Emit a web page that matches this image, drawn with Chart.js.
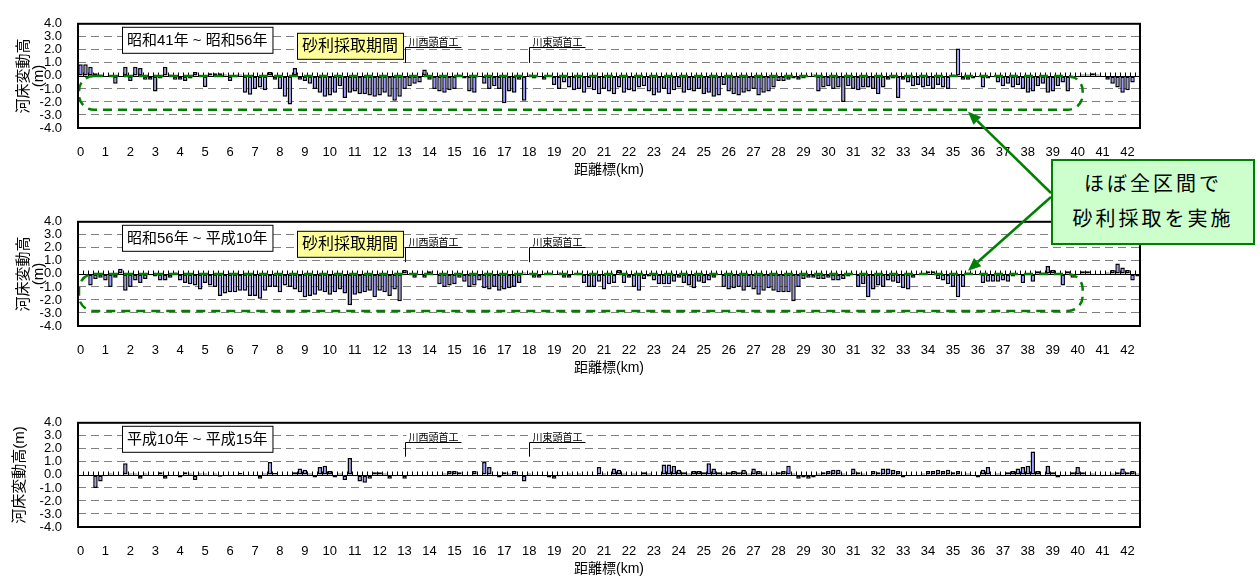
<!DOCTYPE html>
<html><head><meta charset="utf-8">
<script src="https://cdn.jsdelivr.net/npm/chart.js@4"></script>
<style>
html,body{margin:0;padding:0;background:#fff;}
body{width:1260px;height:577px;position:relative;overflow:hidden;font-family:"Liberation Sans","Noto Sans CJK JP",sans-serif;}
.panel{position:absolute;left:0;width:1260px;height:198px;}
#ov{position:absolute;left:0;top:0;z-index:2;pointer-events:none;}
#callout{position:absolute;left:1051px;top:159px;width:200px;height:78px;border:2px solid #008000;background:#CCFFCC;z-index:3;
 font-family:"Noto Sans CJK JP",sans-serif;font-size:20px;line-height:35px;letter-spacing:3px;text-align:center;color:#000;padding-top:4px;box-sizing:content-box;}
</style></head>
<body>
<div class="panel" style="top:0px"><canvas id="c1" width="1260" height="198"></canvas></div>
<div class="panel" style="top:198px"><canvas id="c2" width="1260" height="198"></canvas></div>
<div class="panel" style="top:399px"><canvas id="c3" width="1260" height="198"></canvas></div>
<canvas id="ov" width="1260" height="577"></canvas>
<div id="callout">ほぼ全区間で<br>砂利採取を実施</div>
<script>
// ---- categories: distance marks every 0.2 km (0.0 .. 42.4) ----
const distanceKm = Array.from({length: 213}, (_, i) => +(i * 0.2).toFixed(1));
const tickLabels = ['0','1','2','3','4','5','6','7','8','9','10','11','12','13','14','15','16','17','18','19','20',
  '21','22','23','24','25','26','27','28','29','30','31','32','33','34','35','36','37','38','39','40','41','42'];
const yTicks = [-4, -3, -2, -1, 0, 1, 2, 3, 4];

// ---- series: riverbed change (m) ----
const changeS41toS56 = [
  0.9, 0.9, 0.7, 0.2, 0.1, 0.0, 0.0,-0.6, 0.0, 0.7,
 -0.4, 0.7, 0.6,-0.3,-0.3,-1.2,-0.2, 0.7, 0.1,-0.3,
 -0.3,-0.4,-0.2, 0.3, 0.0,-0.85,0.2, 0.2, 0.2, 0.1,
 -0.4,-0.1, 0.1,-1.3,-1.45,-1.0,-0.9,-1.1,0.3,-0.3,
 -1.0,-1.6,-2.2, 0.6,-0.3,-0.4,-0.6,-1.0,-1.3,-1.6,
 -1.5,-1.3,-0.8,-1.7,-1.3,-1.2,-1.4,-1.4,-1.5,-1.6,
 -1.5,-1.3,-1.6,-1.9,-1.6,-1.0,-0.8,-0.6,-0.5, 0.5,
 -0.3,-1.0,-1.2,-1.3,-1.1,-1.0, 0.1,-0.2,-1.2,-1.3,
  0.0,-0.6,-1.0,-0.8,-1.0,-2.1,-1.2,-1.3,-0.3,-1.9,
  0.1,-0.2,-0.1,-0.3, 0.0,-0.7,-1.0,-0.5,-0.9,-1.1,
 -1.0,-1.3,-0.9,-1.1,-1.4,-1.0,-1.2,-1.4,-0.9,-1.3,
 -1.1,-1.2,-0.9,-0.8,-1.2,-1.5,-1.3,-1.0,-1.4,-1.1,
 -0.9,-1.3,-1.1,-1.2,-1.0,-1.4,-1.3,-1.6,-1.5,-0.7,
 -1.2,-1.4,-1.5,-1.3,-1.2,-1.0,-1.5,-1.3,-1.2,-0.9,
 -0.4,-0.4,-0.3,-0.2,-0.3,-0.2,-0.1, 0.1,-1.2,-0.9,
 -0.8,-1.0,-0.9,-2.0,-0.8,-1.0,-1.1,-0.9,-0.9,-1.0,
 -1.4,-0.9,-0.3,-0.2,-1.7,-0.3,-0.5,-0.8,-0.7,-0.9,
 -0.8,-1.0,-0.7,-0.9,-1.0, 0.1, 2.1,-0.3,-0.3,-0.2,
  0.0,-0.9,-0.2,-0.1,-0.5,-0.8,-0.6,-0.9,-0.7,-1.0,
 -1.3,-1.2,-0.8,-0.6,-1.3,-1.2,-0.8,-0.5,-1.2,-0.2,
  0.0, 0.1, 0.1, 0.2, 0.1, 0.0,-0.3,-0.6,-0.9,-1.3,
 -1.1,-0.5, 0.0
];
const changeS56toH10 = [
  0.0, 0.0,-0.9,-0.4,-0.3,-0.5,-1.0,-0.3, 0.4,-1.3,
 -1.0,-0.5,-0.7,-0.4,-0.1,-0.2,-0.5,-0.5,-0.3, 0.1,
 -0.5,-0.7,-0.8,-0.9,-1.2,-0.7,-0.9,-1.0,-1.7,-1.5,
 -1.4,-1.4,-1.3,-1.3,-1.7,-1.7,-1.9,-1.3,-1.0,-1.0,
 -1.4,-0.9,-1.0,-1.2,-1.4,-1.8,-1.7,-1.6,-1.3,-1.4,
 -1.6,-1.4,-1.2,-1.5,-2.4,-1.6,-1.5,-1.4,-1.3,-1.8,
 -1.3,-1.4,-1.7,-1.2,-2.1, 0.3, 0.0,-0.3, 0.0,-0.3,
  0.2,-0.1,-0.8,-1.0,-0.9,-0.8,-0.3,-0.6,-1.0,-0.9,
 -0.5,-1.1,-1.2,-1.0,-1.3,-1.2,-1.1,-1.0,-0.7, 0.1,
  0.0,-0.3,-0.3,-0.1, 0.1,-0.1, 0.1,-0.3,-0.3, 0.0,
 -0.1,-0.7,-1.0,-1.0,-0.6,-1.2,-0.8,-0.7, 0.3,-0.7,
 -0.3,-1.0,-1.3,-0.4,-0.2,-0.5,-0.8,-0.8,-0.8,-0.6,
 -0.3,-0.7,-0.9,-1.1,-0.6,-0.7,-0.5,-0.3, 0.0,-1.0,
 -1.2,-1.1,-1.0,-1.3,-1.0,-1.2,-1.6,-1.3,-1.1,-1.3,
 -1.4,-1.4,-1.4,-2.1,-1.0,-0.4,-0.3,-0.3,-0.4,-0.4,
 -0.3,-0.5,-0.5,-0.4,-0.2,-0.1,-1.0,-0.8,-1.8,-1.2,
 -0.9,-1.0,-0.5,-0.6,-0.7,-1.1,-1.2,-0.3,-0.1, 0.0,
  0.2, 0.2,-0.4,-0.5,-0.8,-1.0,-1.8,-1.0, 0.1, 0.0,
 -0.1,-0.7,-0.6,-0.6,-0.6,-0.5,-0.6,-0.2,-0.1,-0.7,
 -0.1,-0.6, 0.2, 0.1, 0.6, 0.3, 0.0,-0.9, 0.2,-0.3,
 -0.1, 0.2, 0.2, 0.0,-0.05,0.0, 0.1, 0.3, 0.8, 0.5,
  0.3,-0.5,-0.2
];
const changeH10toH15 = [
  0.0, 0.0, 0.0,-1.0,-0.5,-0.1, 0.1, 0.0, 0.05,0.9,
  0.1, 0.1,-0.3, 0.1, 0.0, 0.0, 0.2,-0.3, 0.0, 0.0,
 -0.2, 0.2, 0.1,-0.4, 0.1, 0.1,-0.1, 0.1,-0.15,0.0,
  0.0, 0.0, 0.15,0.0, 0.0, 0.0,-0.3, 0.1, 1.0, 0.15,
  0.0, 0.0,-0.1, 0.2, 0.5, 0.4, 0.1,-0.2, 0.6, 0.7,
  0.3,-0.2, 0.1,-0.4, 1.3,-0.1,-0.5,-0.6,-0.3, 0.2,
  0.2, 0.1,-0.3,-0.1, 0.0,-0.3, 0.0,-0.1, 0.0,-0.1,
  0.0,-0.1, 0.0, 0.1, 0.3, 0.3, 0.2,-0.1,-0.1, 0.3,
  0.0, 1.0, 0.6,-0.1,-0.2, 0.2, 0.1, 0.3,-0.1,-0.5,
  0.1, 0.0, 0.0,-0.1,-0.2,-0.3,-0.1, 0.0, 0.1, 0.0,
  0.1, 0.0, 0.0, 0.0, 0.6, 0.1, 0.0, 0.5, 0.4, 0.1,
  0.0, 0.1, 0.0, 0.2, 0.1, 0.0, 0.0, 0.8, 0.8, 0.7,
  0.4, 0.2, 0.1, 0.3, 0.3, 0.2, 0.9, 0.5, 0.2, 0.1,
  0.2, 0.3, 0.2, 0.4, 0.1, 0.5, 0.3, 0.1, 0.0, 0.1,
  0.2, 0.3, 0.7, 0.1,-0.3,-0.2,-0.3,-0.2, 0.1, 0.2,
  0.3, 0.4, 0.4, 0.1, 0.0, 0.5, 0.2, 0.1, 0.0, 0.3,
  0.2, 0.5, 0.5, 0.4, 0.3,-0.2,-0.1, 0.0, 0.0, 0.1,
  0.3, 0.3, 0.4, 0.3, 0.4, 0.2, 0.3, 0.0, 0.1, 0.0,
 -0.2, 0.4, 0.6, 0.0, 0.1,-0.1, 0.2, 0.3, 0.5, 0.6,
  0.7, 1.8, 0.3, 0.0, 0.7, 0.2,-0.2,-0.1, 0.0, 0.2,
  0.6, 0.2, 0.0, 0.1, 0.0,-0.1, 0.0, 0.1, 0.2, 0.5,
  0.2, 0.3, 0.1
];

const periodLabels = ['昭和41年 ~ 昭和56年', '昭和56年 ~ 平成10年', '平成10年 ~ 平成15年'];
const weirs = [{km: 13.0, name: '川西頭首工'}, {km: 18.0, name: '川東頭首工'}];

const FONT = '"Liberation Sans","Noto Sans CJK JP",sans-serif';
Chart.defaults.font.family = FONT;
Chart.defaults.color = '#000';

function roundRectPath(ctx, x, y, w, h, r) {
  ctx.beginPath();
  ctx.moveTo(x + r, y);
  ctx.lineTo(x + w - r, y);
  ctx.arcTo(x + w, y, x + w, y + r, r);
  ctx.lineTo(x + w, y + h - r);
  ctx.arcTo(x + w, y + h, x + w - r, y + h, r);
  ctx.lineTo(x + r, y + h);
  ctx.arcTo(x, y + h, x, y + h - r, r);
  ctx.lineTo(x, y + r);
  ctx.arcTo(x, y, x + r, y, r);
  ctx.closePath();
}

const decorPlugin = {
  id: 'decor',
  afterDatasetsDraw(chart, args, o) {
    const {ctx, chartArea: a, scales: {x, y}} = chart;
    const y0 = Math.round(y.getPixelForValue(0)) + 0.5;
    ctx.save();
    ctx.strokeStyle = '#000'; ctx.lineWidth = 1; ctx.setLineDash([]);
    ctx.beginPath();
    ctx.moveTo(a.left, y0); ctx.lineTo(a.right, y0);
    const n = chart.data.labels.length;
    for (let i = 1; i < n; i++) {
      const px = Math.round((x.getPixelForValue(i - 1) + x.getPixelForValue(i)) / 2) + 0.5;
      ctx.moveTo(px, y0 - 4); ctx.lineTo(px, y0);
    }
    ctx.stroke();
    if (o.gravel) {
      const left = a.left + 1;
      const right = x.getPixelForValue(o.rectEndIndex);
      const top = y.getPixelForValue(0);
      const bottom = y.getPixelForValue(o.rectBottom);
      ctx.strokeStyle = '#008000'; ctx.lineWidth = 2.5; ctx.setLineDash([9, 6]);
      roundRectPath(ctx, left, top, right - left, bottom - top, 15);
      ctx.stroke();
    }
    ctx.restore();
  },
  afterDraw(chart, args, o) {
    const {ctx, chartArea: a, scales: {x, y}} = chart;
    ctx.save();
    ctx.setLineDash([]);
    ctx.font = '10px ' + FONT;
    ctx.textBaseline = 'alphabetic'; ctx.textAlign = 'left';
    weirs.forEach(wr => {
      const idx = distanceKm.indexOf(wr.km);
      const px = Math.round(x.getPixelForValue(idx)) + 0.5;
      const yu = Math.round(y.getPixelForValue(o.leaderTop)) + 0.5;
      const yb = y.getPixelForValue(o.leaderBottom);
      const tw = ctx.measureText(wr.name).width;
      ctx.fillStyle = '#fff';
      ctx.fillRect(px + 1, yu - 11, tw + 6, 10);
      ctx.fillStyle = '#000';
      ctx.fillText(wr.name, px + 3, yu - 2);
      ctx.strokeStyle = '#000'; ctx.lineWidth = 1;
      ctx.beginPath();
      ctx.moveTo(px, yb); ctx.lineTo(px, yu); ctx.lineTo(px + tw + 6, yu);
      ctx.stroke();
    });
    ctx.font = '15px ' + FONT;
    const pt = o.period;
    const pw = ctx.measureText(pt).width + 10;
    const bx = a.left + 44, by = a.top + 3;
    ctx.fillStyle = '#fff'; ctx.fillRect(bx, by, pw, 26);
    ctx.strokeStyle = '#000'; ctx.lineWidth = 1;
    ctx.strokeRect(bx + 0.5, by + 0.5, pw, 26);
    ctx.fillStyle = '#000'; ctx.textAlign = 'center'; ctx.textBaseline = 'middle';
    ctx.fillText(pt, bx + pw / 2, by + 14);
    if (o.gravel) {
      ctx.font = '16px ' + FONT;
      const gx = a.left + 219, gy = a.top + 9, gw = 106, gh = 26;
      ctx.fillStyle = '#FFFF99'; ctx.fillRect(gx, gy, gw, gh);
      ctx.strokeStyle = '#000'; ctx.strokeRect(gx + 0.5, gy + 0.5, gw, gh);
      ctx.fillStyle = '#000';
      ctx.fillText('砂利採取期間', gx + gw / 2, gy + gh / 2 + 1);
    }
    ctx.strokeStyle = '#000'; ctx.lineWidth = 2;
    ctx.strokeRect(a.left, a.top, a.right - a.left, a.bottom - a.top);
    ctx.fillStyle = '#000';
    ctx.font = '14px ' + FONT;
    ctx.textAlign = 'center'; ctx.textBaseline = 'middle';
    ctx.fillText('距離標(km)', (a.left + a.right) / 2, a.bottom + 42);
    ctx.font = '15px ' + FONT;
    const cy = (a.top + a.bottom) / 2;
    o.yTitle.forEach(t => {
      ctx.save();
      ctx.translate(t.x, cy);
      ctx.rotate(-Math.PI / 2);
      ctx.fillText(t.text, 0, 0);
      ctx.restore();
    });
    ctx.restore();
  }
};

function makeChart(id, values, decor) {
  return new Chart(document.getElementById(id), {
    type: 'bar',
    data: {
      labels: distanceKm,
      datasets: [{
        data: values,
        backgroundColor: '#9999FF',
        borderColor: '#000',
        borderWidth: 1.5,
        borderSkipped: false,
        barPercentage: 0.9,
        categoryPercentage: 1.0
      }]
    },
    options: {
      responsive: false,
      animation: false,
      events: [],
      layout: {padding: {left: 0, right: 120, top: 15, bottom: 0}},
      plugins: {legend: {display: false}, tooltip: {enabled: false}, decor: decor},
      scales: {
        x: {
          type: 'category',
          offset: true,
          grid: {display: false, drawTicks: false},
          border: {display: false},
          ticks: {
            autoSkip: false, maxRotation: 0, minRotation: 0, padding: 17,
            font: {size: 13}, color: '#000',
            callback: (v, i) => Number.isInteger(distanceKm[i]) ? tickLabels[distanceKm[i]] : ''
          },
          afterFit: s => { s.height = 70; }
        },
        y: {
          min: yTicks[0], max: yTicks[yTicks.length - 1],
          afterBuildTicks: s => { s.ticks = yTicks.map(v => ({value: v})); },
          ticks: {autoSkip: false, padding: 16, font: {size: 13}, color: '#000', callback: v => (+v).toFixed(1)},
          grid: {
            drawTicks: false, lineWidth: 1,
            color: c => (c.tick && (c.tick.value === 0 || Math.abs(c.tick.value) === 4)) ? 'rgba(0,0,0,0)' : '#808080'
          },
          border: {display: false, dash: [8, 5]},
          afterFit: s => { s.width = 78; }
        }
      }
    },
    plugins: [decorPlugin]
  });
}

const c1 = makeChart('c1', changeS41toS56, {
  period: periodLabels[0], gravel: true, rectBottom: -2.6, rectEndIndex: 201,
  leaderTop: 2.2, leaderBottom: 1.0,
  yTitle: [{x: 24, text: '河床変動高'}, {x: 39, text: '(m)'}]
});
const c2 = makeChart('c2', changeS56toH10, {
  period: periodLabels[1], gravel: true, rectBottom: -2.85, rectEndIndex: 201,
  leaderTop: 2.05, leaderBottom: 0.9,
  yTitle: [{x: 24, text: '河床変動高'}, {x: 39, text: '(m)'}]
});
const c3 = makeChart('c3', changeH10toH15, {
  period: periodLabels[2], gravel: false,
  leaderTop: 2.5, leaderBottom: 1.4,
  yTitle: [{x: 20, text: '河床変動高(m)'}]
});

(function () {
  const ov = document.getElementById('ov').getContext('2d');
  const box = document.getElementById('callout');
  const sx = box.offsetLeft;
  const targets = [
    {chart: c1, top: 0, idx: 178, val: -2.75, sy: box.offsetTop + 34},
    {chart: c2, top: 198, idx: 178, val: 0.25, sy: box.offsetTop + 38}
  ];
  ov.strokeStyle = '#008000'; ov.fillStyle = '#008000'; ov.lineWidth = 2.5;
  targets.forEach(t => {
    const tx = t.chart.scales.x.getPixelForValue(t.idx);
    const ty = t.chart.scales.y.getPixelForValue(t.val) + t.top;
    const ang = Math.atan2(ty - t.sy, tx - sx);
    const L = 13, H = 5.5;
    const bx = tx - L * Math.cos(ang), by = ty - L * Math.sin(ang);
    ov.beginPath(); ov.moveTo(sx, t.sy); ov.lineTo(bx, by); ov.stroke();
    ov.beginPath(); ov.moveTo(tx, ty);
    ov.lineTo(bx - H * Math.sin(ang), by + H * Math.cos(ang));
    ov.lineTo(bx + H * Math.sin(ang), by - H * Math.cos(ang));
    ov.closePath(); ov.fill();
  });
})();
</script>
</body></html>
